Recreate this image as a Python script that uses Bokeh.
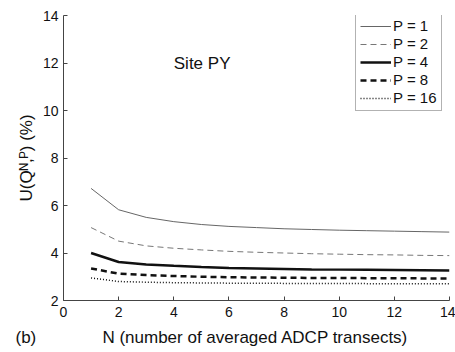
from bokeh.plotting import figure
from bokeh.models import Range1d, Legend, LegendItem, Label, FixedTicker, Title
from bokeh.embed import file_html
from bokeh.resources import INLINE

N = list(range(1, 15))
p1 = [6.72, 5.82, 5.50, 5.32, 5.20, 5.12, 5.07, 5.02, 4.99, 4.96, 4.94, 4.92, 4.90, 4.88]
p2 = [5.07, 4.50, 4.30, 4.20, 4.13, 4.07, 4.03, 4.00, 3.97, 3.95, 3.93, 3.92, 3.90, 3.89]
p4 = [4.00, 3.62, 3.52, 3.46, 3.41, 3.37, 3.35, 3.33, 3.31, 3.30, 3.29, 3.28, 3.27, 3.26]
p8 = [3.35, 3.13, 3.07, 3.03, 3.00, 2.98, 2.97, 2.96, 2.95, 2.95, 2.94, 2.94, 2.93, 2.93]
p16 = [2.95, 2.80, 2.77, 2.75, 2.74, 2.73, 2.73, 2.72, 2.72, 2.72, 2.71, 2.71, 2.71, 2.71]
labels = ["P = 1", "P = 2", "P = 4", "P = 8", "P = 16"]
x_ticks = [0, 2, 4, 6, 8, 10, 12, 14]
y_ticks = [2, 4, 6, 8, 10, 12, 14]
x_title = "N (number of averaged ADCP transects)"
panel_tag = "(b)"

FONT = "Liberation Sans"
NB = "\u00a0"

p = figure(width=455, height=352, output_backend="svg", toolbar_location=None,
           x_range=Range1d(0, 14), y_range=Range1d(2, 14),
           min_border_left=63, min_border_right=6, min_border_top=15, min_border_bottom=49)
p.outline_line_color = None
p.grid.visible = False

series = [p1, p2, p4, p8, p16]
styles = [
    dict(line_color="#666666", line_width=1, line_dash="solid"),
    dict(line_color="#777777", line_width=1, line_dash="6 4"),
    dict(line_color="#111111", line_width=2.5, line_dash="solid"),
    dict(line_color="#111111", line_width=2.5, line_dash="6 4"),
    dict(line_color="#111111", line_width=1.5, line_dash="1 2"),
]
items = []
for ys, st, lab in zip(series, styles, labels):
    r = p.line(N, ys, **st)
    items.append(LegendItem(label=lab, renderers=[r]))

legend = Legend(items=items, location=(292, 189), border_line_color="#666666",
                border_line_width=1, background_fill_alpha=1,
                label_text_font=FONT, label_text_font_size="15px",
                label_text_color="#111111",
                label_standoff=2, glyph_width=31, glyph_height=16,
                label_height=16, spacing=1, padding=4, margin=0)
p.add_layout(legend, "center")

for ax in (p.xaxis, p.yaxis):
    ax.major_tick_in = 4
    ax.major_tick_out = 0
    ax.minor_tick_in = 0
    ax.minor_tick_out = 0
    ax.axis_line_color = "#444444"
    ax.major_tick_line_color = "#444444"
    ax.major_label_text_font = FONT
    ax.major_label_text_font_size = "14px"
    ax.major_label_text_color = "#111111"
    ax.axis_label_text_font = FONT
    ax.axis_label_text_font_size = "17px"
    ax.axis_label_text_font_style = "normal"
    ax.axis_label_text_color = "#111111"

p.xaxis.ticker = FixedTicker(ticks=x_ticks)
p.yaxis.ticker = FixedTicker(ticks=y_ticks)
p.yaxis.axis_label = "U(Q\u1d3a,\u1d3e) (%)"
p.xaxis.major_label_standoff = 6
p.yaxis.major_label_standoff = 5
p.yaxis.axis_label_standoff = 4

bottom_title = Title(text=panel_tag + NB * 14 + x_title, align="left", offset=-48,
                     standoff=12, text_font=FONT, text_font_size="17px",
                     text_font_style="normal", text_color="#111111")
p.add_layout(bottom_title, "below")

p.add_layout(Label(x=4, y=12, text="Site PY", text_font=FONT, text_font_size="17px",
                   text_baseline="middle", text_align="left", text_color="#111111"))

open("out.html", "w").write(file_html(p, INLINE))
